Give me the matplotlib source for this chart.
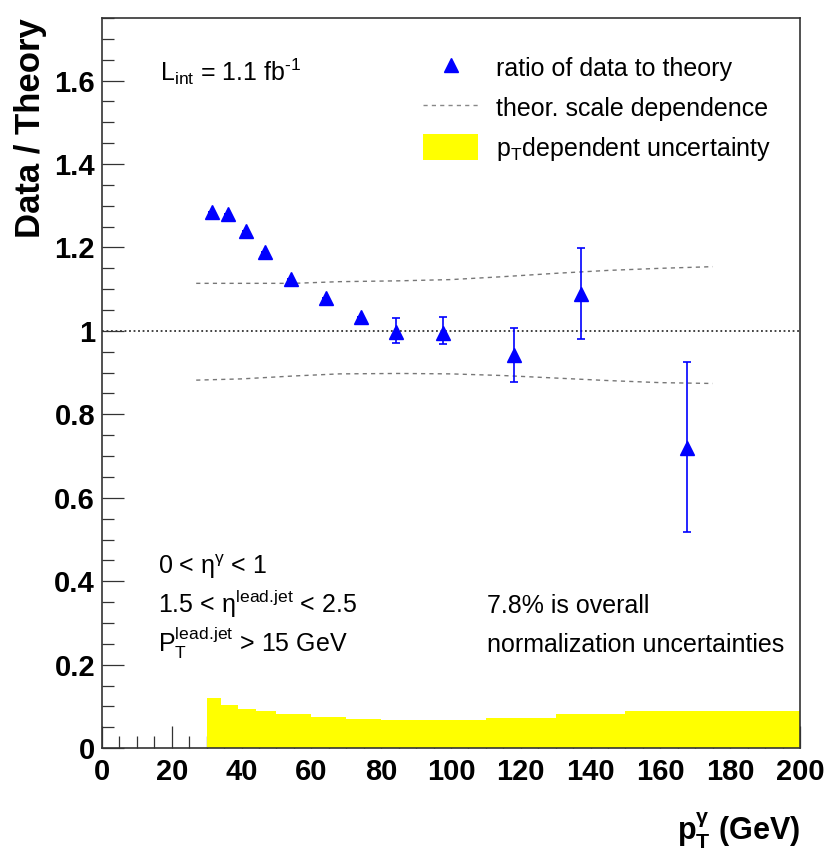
import matplotlib
matplotlib.use("Agg")
import matplotlib.pyplot as plt
from matplotlib.lines import Line2D
from matplotlib.patches import Patch
from matplotlib.ticker import MultipleLocator, FuncFormatter

plt.rcParams['font.family'] = ['Liberation Sans', 'DejaVu Sans']
plt.rcParams['mathtext.fontset'] = 'custom'
plt.rcParams['mathtext.rm'] = 'Liberation Sans'
plt.rcParams['mathtext.it'] = 'Liberation Sans:italic'
plt.rcParams['mathtext.bf'] = 'Liberation Sans:bold'
plt.rcParams['mathtext.default'] = 'regular'

# data / theory ratio points
pt = [31.6, 36.2, 41.2, 46.6, 54.2, 64.1, 74.2, 84.2, 97.8, 118.0, 137.2, 167.7]
ratio = [1.285, 1.280, 1.240, 1.188, 1.124, 1.080, 1.034, 0.998, 0.994, 0.942, 1.089, 0.720]
err_up = [0.0, 0.0, 0.0, 0.0, 0.0, 0.0, 0.0, 0.034, 0.040, 0.064, 0.109, 0.206]
err_dn = [0.0, 0.0, 0.0, 0.0, 0.0, 0.0, 0.0, 0.026, 0.025, 0.064, 0.108, 0.203]

# theoretical scale dependence band
scale_x = [27, 40, 55, 68, 85, 100, 115, 130, 145, 160, 175]
scale_up = [1.114, 1.114, 1.114, 1.118, 1.120, 1.123, 1.130, 1.138, 1.145, 1.150, 1.154]
scale_dn = [0.882, 0.885, 0.892, 0.897, 0.898, 0.897, 0.893, 0.887, 0.881, 0.876, 0.874]

# pT dependent uncertainty histogram
unc_edges = [30, 34, 39, 44, 50, 60, 70, 80, 110, 130, 150, 200]
unc_vals = [0.119, 0.103, 0.094, 0.089, 0.082, 0.074, 0.070, 0.067, 0.073, 0.082, 0.090]

fig = plt.figure(figsize=(8.29, 8.56), dpi=100)
ax = fig.add_axes([0.123, 0.126, 0.842, 0.853])
ax.set_axisbelow(True)

ax.stairs(unc_vals, unc_edges, fill=True, color='#ffff00', zorder=1)
ax.axhline(1.0, color='#333333', ls=(0, (1, 1.5)), lw=1.3, zorder=2)
ax.plot(scale_x, scale_up, color='#777777', ls=(0, (3, 3)), lw=1.0, zorder=2)
ax.plot(scale_x, scale_dn, color='#777777', ls=(0, (3, 3)), lw=1.0, zorder=2)
ax.errorbar(pt, ratio, yerr=[err_dn, err_up], fmt='none', ecolor='#0000ff',
            elinewidth=1.2, capsize=3, capthick=1.2, zorder=3)
ax.plot(pt, ratio, '^', color='#0000ff', mec='#0000ff', ms=10, zorder=4)

ax.set_xlim(0, 200)
ax.set_ylim(0, 1.75)
ax.xaxis.set_major_locator(MultipleLocator(20))
ax.xaxis.set_minor_locator(MultipleLocator(5))
ax.yaxis.set_major_locator(MultipleLocator(0.2))
ax.yaxis.set_minor_locator(MultipleLocator(0.05))
ax.yaxis.set_major_formatter(FuncFormatter(lambda v, p: '%g' % round(v, 2)))
ax.tick_params(which='both', direction='in', top=False, right=False, color='#333333', width=0.9)
ax.tick_params(which='major', length=16, labelsize=21)
ax.tick_params(which='minor', length=8.5)
ax.tick_params(axis='x', pad=7)
ax.tick_params(axis='y', pad=5)
for lab in ax.get_xticklabels() + ax.get_yticklabels():
    lab.set_fontweight('bold')
for s in ax.spines.values():
    s.set_color('#333333')
    s.set_linewidth(1.2)
    s.set_zorder(5)

ax.set_ylabel('Data / Theory', fontsize=25, fontweight='bold', loc='top', labelpad=5)
ax.set_xlabel(r'$\mathbf{p_T^{\gamma}}$ (GeV)', fontsize=22, fontweight='bold', loc='right', labelpad=18)

ax.text(16.6, 1.6, r'$L_{int}$ = 1.1 fb$^{\text{-}1}$', fontsize=18, va='baseline')
ax.text(16.0, 0.418, r'0 < $\eta^{\gamma}$ < 1', fontsize=18, va='baseline')
ax.text(16.0, 0.324, r'1.5 < $\eta^{lead.\!jet}$ < 2.5', fontsize=18, va='baseline')
ax.text(16.0, 0.230, r'$P_T^{lead.\!jet}$ > 15 GeV', fontsize=18, va='baseline')
ax.text(110.3, 0.324, '7.8% is overall', fontsize=18, va='baseline')
ax.text(110.3, 0.230, 'normalization uncertainties', fontsize=18, va='baseline')

handles = [
    Line2D([], [], marker='^', color='#0000ff', ls='none', ms=10),
    Line2D([], [], color='#888888', ls=(0, (3, 3)), lw=1.0),
    Patch(facecolor='#ffff00', edgecolor='none'),
]
labels = ['ratio of data to theory', 'theor. scale dependence', r'$p_T$dependent uncertainty']
ax.legend(handles, labels, loc='upper left', bbox_to_anchor=(0.46, 0.95), frameon=False,
          fontsize=18, borderaxespad=0, borderpad=0, handlelength=2.2, handleheight=1.2,
          handletextpad=0.7, labelspacing=0.55)

fig.savefig('out.png', dpi=100)
